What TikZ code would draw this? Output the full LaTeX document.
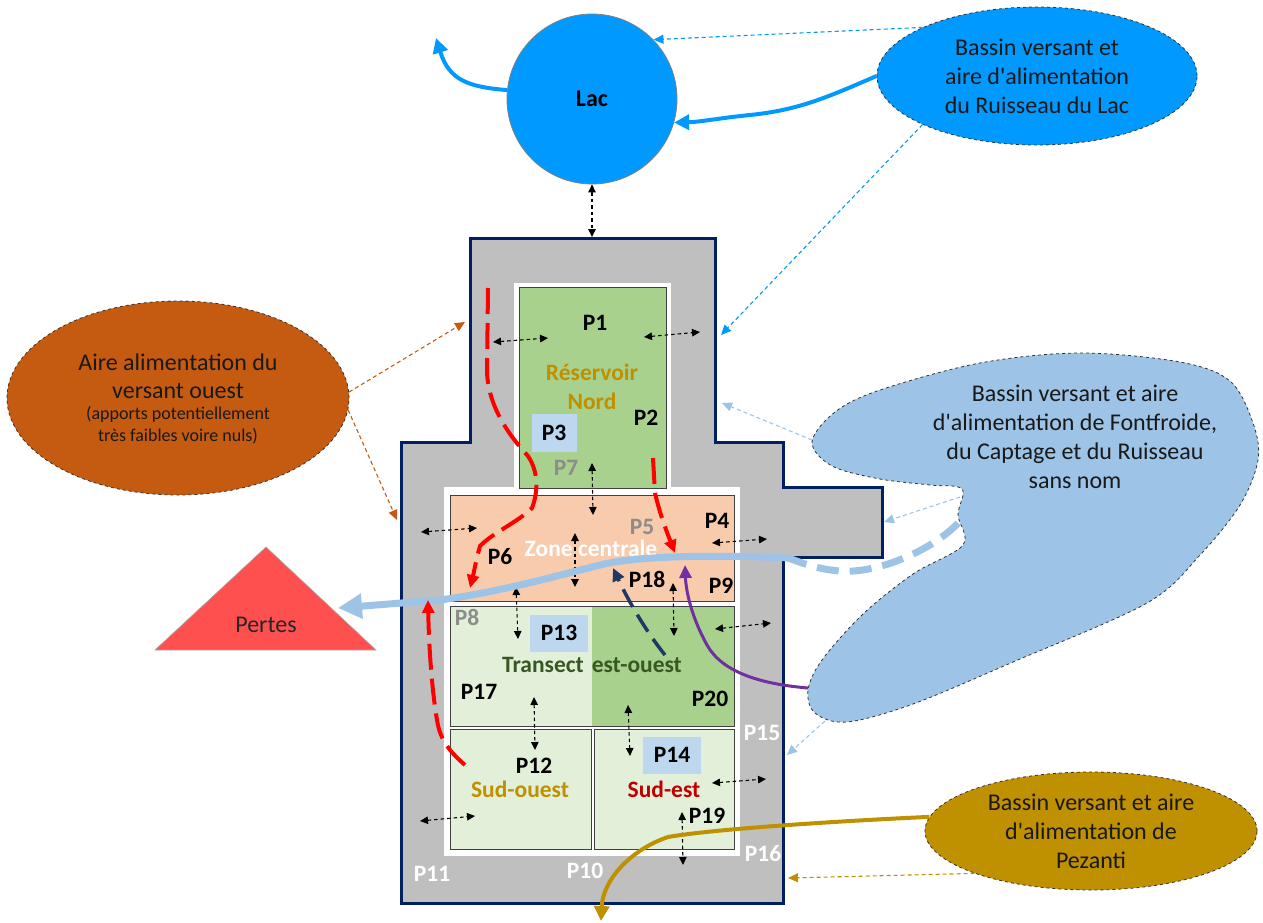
\documentclass[tikz,border=0pt]{standalone}
\usepackage{fontspec}
\setmainfont{Carlito}[Ligatures=TeXOff]
\usetikzlibrary{arrows.meta,shapes.geometric}
\definecolor{navy}{HTML}{002060}
\definecolor{grayfill}{HTML}{BFBFBF}
\definecolor{resgreen}{HTML}{A9D18E}
\definecolor{peach}{HTML}{F8CBAD}
\definecolor{lightgreen}{HTML}{E2F0D9}
\definecolor{boxblue}{HTML}{BDD7EE}
\definecolor{lakeblue}{HTML}{0099FF}
\definecolor{brownc}{HTML}{C55A11}
\definecolor{blobblue}{HTML}{9DC3E6}
\definecolor{goldc}{HTML}{BF9000}
\definecolor{pertesred}{HTML}{FF5050}
\definecolor{darkred}{HTML}{C00000}
\definecolor{darkgreen}{HTML}{385723}
\definecolor{purplec}{HTML}{7030A0}
\definecolor{darknavy}{HTML}{1F3864}
\definecolor{lblgray}{HTML}{8C8C8C}
\definecolor{zoneline}{HTML}{404040}
\tikzset{
  plab/.style={font=\fontsize{23.5}{27}\selectfont\bfseries, inner sep=0pt},
  wlab/.style={plab, text=white},
  glab/.style={plab, text=lblgray},
  pbox/.style={plab, fill=boxblue},
  ellt/.style={font=\fontsize{24}{29}\selectfont, align=center, text=black!90},
  zone/.style={draw=zoneline, line width=1pt},
  dbl/.style={line width=1.1pt, dash pattern=on 3.5pt off 3pt,
    {Triangle[length=8pt,width=7.5pt]}-{Triangle[length=8pt,width=7.5pt]}},
  thinarr/.style={line width=1.1pt, dash pattern=on 4pt off 3pt, -{Triangle[length=10pt,width=9pt]}},
  reddash/.style={red, line width=4pt, dash pattern=on 26pt off 9pt, -{Triangle[length=13pt,width=12pt]}},
  thickarr/.style={line width=4pt, -{Triangle[length=15pt,width=15pt]}}
}
\begin{document}
\begin{tikzpicture}[x=1pt,y=-1pt]
\useasboundingbox (0,0) rectangle (1263,923);

% main gray shape
\draw[fill=grayfill, draw=navy, line width=3pt]
  (470,238) -- (715,238) -- (715,442) -- (783,442) -- (783,487) -- (882,487)
  -- (882,557) -- (783,557) -- (783,903) -- (401,903) -- (401,442) -- (470,442) -- cycle;
% white inner regions
\fill[white] (514,283) rectangle (671,492);
\fill[white] (444,487) rectangle (740,856);
% zones
\draw[zone, fill=resgreen] (519,287) rectangle (666,488);
\draw[zone, fill=peach] (450,495) rectangle (734,601);
\fill[lightgreen] (450,606) rectangle (592,726);
\fill[resgreen] (592,606) rectangle (734,726);
\draw[zone] (450,606) rectangle (734,726);
\draw[zone, fill=lightgreen] (450,729) rectangle (591,849);
\draw[zone, fill=lightgreen] (594,729) rectangle (734,849);

% lake
\node[circle, fill=lakeblue, draw=gray, line width=0.8pt, minimum size=170pt, inner sep=0pt,
  font=\fontsize{24}{28}\selectfont\bfseries] (lac) at (592,99) {Lac};

% ellipses
\node[ellipse, fill=lakeblue, draw=black!80, dashed, line width=0.8pt, minimum width=320pt,
  minimum height=138pt, inner sep=0pt, ellt] (ellA) at (1037,76)
  {Bassin versant et\\aire d'alimentation\\du Ruisseau du Lac};
\node[ellipse, fill=brownc, draw=black!80, dashed, line width=0.8pt, minimum width=342pt,
  minimum height=194pt, inner sep=0pt] (ouest) at (178,398) {};
\node[ellt, inner sep=0pt, font=\fontsize{24}{28}\selectfont] (ouestt) at (178,376)
  {Aire alimentation du\\versant ouest};
\node[ellt, inner sep=0pt, font=\fontsize{18}{22}\selectfont] (ouests) at (178,425)
  {(apports potentiellement\\très faibles voire nuls)};
\node[ellipse, fill=goldc, draw=black!80, dashed, line width=0.8pt, minimum width=332pt,
  minimum height=118pt, inner sep=0pt, ellt] (pez) at (1091,831)
  {Bassin versant et aire\\d'alimentation de\\Pezanti};

% blob
\draw[fill=blobblue, draw=black!80, dashed, line width=0.8pt]
  plot[smooth cycle, tension=0.55] coordinates {
  (962,489) (930,485) (880,479) (832,466) (812,442) (835,412) (880,390) (980,363) (1080,353)
  (1180,362) (1230,381) (1253,423) (1258,460) (1240,505) (1200,555) (1147,603) (1013,662)
  (913,704) (847,722) (815,713) (808,690) (822,660) (863,614) (913,574) (963,545) (958,515)};
\node[ellt, inner sep=0pt] (blob) at (1075,437)
  {Bassin versant et aire\\d'alimentation de Fontfroide,\\du Captage et du Ruisseau\\sans nom};

% Pertes triangle
\draw[fill=pertesred, draw=gray!70, line width=0.6pt] (266,547) -- (376,650) -- (155,650) -- cycle;
\node[font=\fontsize{24}{28}\selectfont, inner sep=0pt, text=black!85] (pertes) at (266,625) {Pertes};

% labels
\node[plab] (p1) at (595,323) {P1};
\node[plab, text=goldc, align=center, font=\fontsize{23.5}{29}\selectfont\bfseries] (res) at (592,387) {Réservoir\\Nord};
\node[plab] (p2) at (646,418) {P2};
\node[pbox, minimum width=45pt, minimum height=38pt] (p3) at (554,433) {P3};
\node[glab] (p7) at (566,468) {P7};
\node[glab] (p5) at (642,527) {P5};
\node[plab] (p4) at (717,521) {P4};
\node[wlab] (zc) at (591,548) {Zone centrale};
\node[plab] (p6) at (500,557) {P6};
\node[plab] (p18) at (647,579) {P18};
\node[plab] (p9) at (721,586) {P9};
\node[glab] (p8) at (467,617) {P8};
\node[pbox, minimum width=58pt, minimum height=37pt] (p13) at (559,633) {P13};
\node[plab, text=darkgreen] (tr) at (592,665) {Transect\hspace{8pt}est-ouest};
\node[plab] (p17) at (479,692) {P17};
\node[plab] (p20) at (710,699) {P20};
\node[wlab] (p15) at (762,733) {P15};
\node[pbox, minimum width=58pt, minimum height=37pt] (p14) at (672,755) {P14};
\node[plab] (p12) at (534,766) {P12};
\node[plab, text=goldc] (so) at (520,789) {Sud-ouest};
\node[plab, text=darkred] (se) at (664,789) {Sud-est};
\node[plab] (p19) at (707,816) {P19};
\node[wlab] (p16) at (763,854) {P16};
\node[wlab] (p11) at (432,874) {P11};
\node[wlab] (p10) at (585,871) {P10};

% free-end coordinates
\coordinate (lacout) at (436,38);
\coordinate (gTop) at (592,237);
\coordinate (gR1) at (721,335);
\coordinate (gR2) at (722,403);
\coordinate (gArm) at (884,522);
\coordinate (gR3) at (787,755);
\coordinate (gR4) at (788,878);
\coordinate (gL1) at (465,322);
\coordinate (gL2) at (397,520);
\coordinate (bl1) at (812,440);
\coordinate (bl2) at (960,497);
\coordinate (bl3) at (825,721);
\coordinate (bltip) at (808,688);
\coordinate (blnotch) at (958,523);
\coordinate (pezout) at (601,921);
\coordinate (pertestip) at (338,608);

% thick lake flows
\draw[lakeblue, thickarr] (lac.174) .. controls (468,87) and (449,80) .. (lacout);
\draw[lakeblue, thickarr] (ellA.west) .. controls (830,96) and (800,110) .. (750,115)
  .. controls (720,118) and (700,122) .. (lac.-16);

% thin dashed influences
\draw[lakeblue, thinarr] (ellA.157) -- (lac.44);
\draw[lakeblue, thinarr] (ellA.203) -- (gR1);
\draw[blobblue, thinarr] (bl1) -- (gR2);
\draw[blobblue, thinarr] (bl2) -- (gArm);
\draw[blobblue, thinarr] (bl3) -- (gR3);
\draw[goldc, thinarr] (pez.200) -- (gR4);
\draw[brownc, thinarr] (ouest.2) -- (gL1);
\draw[brownc, thinarr] (ouest.-4) -- (gL2);

% black double arrows
\draw[dbl] (lac.south) -- (gTop);
\draw[dbl] (493,342) -- (548,338);
\draw[dbl] (644,337) -- (700,332);
\draw[dbl] (592,463) -- (593,515);
\draw[dbl] (421,532) -- (477,528);
\draw[dbl] (575,533) -- (575,587);
\draw[dbl] (712,543) -- (767,539);
\draw[dbl] (516,587) -- (518,639);
\draw[dbl] (673,583) -- (674,636);
\draw[dbl] (715,629) -- (771,623);
\draw[dbl] (534,697) -- (535,750);
\draw[dbl] (628,705) -- (630,756);
\draw[dbl] (712,783) -- (766,779);
\draw[dbl] (420,821) -- (475,816);
\draw[dbl] (682,812) -- (683,865);

% light blue main flow
\draw[blobblue, line width=7pt, dash pattern=on 22pt off 11pt] (blnotch)
  .. controls (935,548) and (880,574) .. (840,571) .. controls (815,569) and (800,562) .. (788,558);
\draw[blobblue, line width=7pt, -{Triangle[length=24pt,width=24pt]}] (790,558)
  .. controls (720,555) and (640,555) .. (600,565) .. controls (560,575) and (500,592) .. (440,600)
  -- (pertestip);

% purple flow
\draw[purplec, line width=3pt, -{Triangle[length=13pt,width=12pt]}] (bltip)
  .. controls (760,684) and (722,672) .. (707,645) .. controls (692,618) and (686,592) .. (685,565);

% navy dashed
\draw[darknavy, line width=3.5pt, dash pattern=on 20pt off 9pt, -{Triangle[length=13pt,width=12pt]}]
  (665,655) .. controls (645,630) and (628,600) .. (613,568);

% red dashed paths
\draw[reddash] (488,288) -- (487,372) .. controls (488,400) and (502,428) .. (528,456)
  .. controls (540,474) and (537,495) .. (532,508) .. controls (518,522) and (494,532) .. (480,546)
  .. controls (476,560) and (474,572) .. (470,588);
\draw[reddash] (653,458) -- (655,493) .. controls (660,515) and (668,535) .. (675,553);
\draw[reddash] (465,765) .. controls (450,752) and (440,740) .. (437,720)
  .. controls (432,690) and (429,650) .. (428,600);

% gold flow
\draw[goldc, thickarr] (pez.175) .. controls (860,820) and (720,828) .. (668,837)
  .. controls (630,850) and (603,880) .. (pezout);
\end{tikzpicture}
\end{document}
